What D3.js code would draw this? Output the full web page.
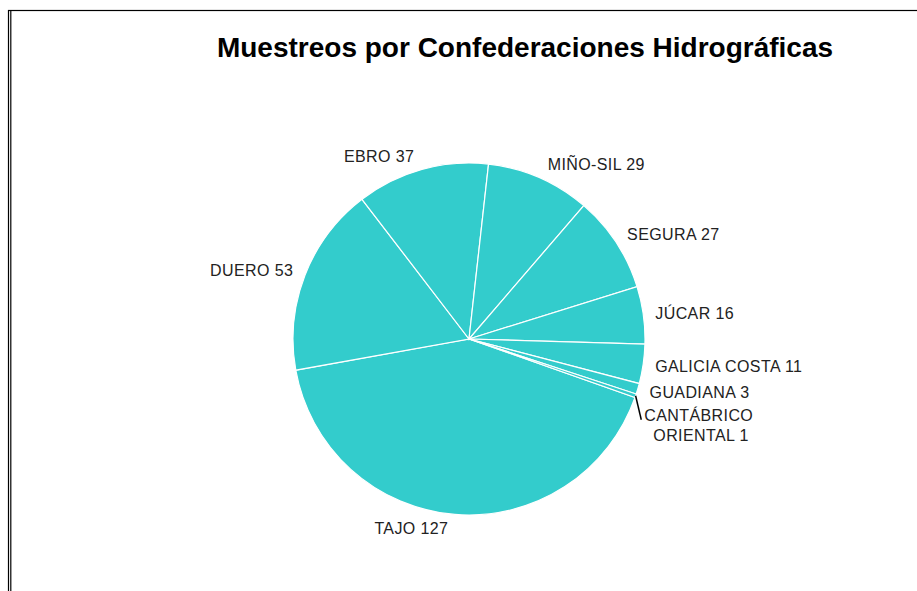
<!DOCTYPE html>
<html>
<head>
<meta charset="utf-8">
<script src="https://cdn.jsdelivr.net/npm/d3@7"></script>
<style>
  body { margin: 0; background: #fff; }
  svg { display: block; font-family: "Liberation Sans", Arial, sans-serif; }
</style>
</head>
<body>
<div id="container"></div>
<script>
// data we work with
let names = ["TAJO", "DUERO", "EBRO", "MIÑO-SIL", "SEGURA", "JÚCAR",
  "GALICIA COSTA", "GUADIANA", "CANTÁBRICO\nORIENTAL"];
let values = [127, 53, 37, 29, 27, 16, 11, 3, 1];
let title = "Muestreos por Confederaciones Hidrográficas";

let data = names.map(function(n, i){
  return { name: n, value: values[i] };
});

let w = 917;
let h = 591;
let cx = 469;
let cy = 339;
let r = 176;
let fs = 16;
let lineH = 20;

let viz = d3.select("#container")
  .append("svg")
    .attr("width", w)
    .attr("height", h)
;

// frame (double line on the left)
viz.append("rect")
  .attr("x", 8.5).attr("y", 10.5)
  .attr("width", 1000).attr("height", 1000)
  .attr("fill", "none").attr("stroke", "#000").attr("stroke-width", 1.2);
viz.append("line")
  .attr("x1", 10.8).attr("x2", 10.8)
  .attr("y1", 10.5).attr("y2", h)
  .attr("stroke", "#000").attr("stroke-width", 1.2);

viz.append("text")
  .attr("x", 525)
  .attr("y", 57)
  .attr("text-anchor", "middle")
  .attr("font-size", 28)
  .attr("font-weight", "bold")
  .attr("fill", "#000")
  .text(title);

let start = 109.4 * Math.PI / 180;
let pie = d3.pie()
  .sort(null)
  .value(function(d){ return d.value; })
  .startAngle(start)
  .endAngle(start + 2 * Math.PI);

let arcs = pie(data);

let arcMaker = d3.arc().innerRadius(0).outerRadius(r);

let g = viz.append("g").attr("transform", "translate(" + cx + "," + cy + ")");

g.selectAll("path")
  .data(arcs)
  .enter()
  .append("path")
    .attr("d", arcMaker)
    .attr("fill", "#33CCCC")
    .attr("stroke", "#fff")
    .attr("stroke-width", 1.2)
;

// label layout: point just outside the arc, then push apart on each side
let labelR = r + 6;
let labels = arcs.map(function(a){
  let mid = (a.startAngle + a.endAngle) / 2;
  let s = Math.sin(mid), c = Math.cos(mid);
  let lines = (a.data.name + " " + a.data.value).split("\n");
  let bh = (lines.length - 1) * lineH + fs;
  let px = labelR * s;
  let py = -labelR * c;
  let center = py - c * bh / 2;
  return { a: a, mid: mid, s: s, lines: lines, bh: bh, px: px, top: center - bh / 2, moved: false };
});

[1, -1].forEach(function(side){
  let group = labels.filter(function(l){ return (l.s >= 0 ? 1 : -1) === side; })
    .sort(function(p, q){ return p.top - q.top; });
  for (let i = 1; i < group.length; i++) {
    let prev = group[i - 1];
    let minTop = prev.top + prev.bh + 7;
    if (group[i].top < minTop) {
      group[i].top = minTop;
      group[i].moved = true;
    }
  }
});

labels.forEach(function(l){
  let side = l.s >= 0 ? 1 : -1;
  let anchor = side > 0 ? "start" : "end";
  let x = l.px + side * 6;
  if (l.moved) {
    let p0 = [r * Math.sin(l.mid), -r * Math.cos(l.mid)];
    g.append("line")
      .attr("x1", p0[0]).attr("y1", p0[1])
      .attr("x2", l.px).attr("y2", l.top + l.bh / 2 - 6)
      .attr("stroke", "#000").attr("stroke-width", 1.5);
    x = l.px + side * 3;
  }
  let t = g.append("text")
    .attr("text-anchor", anchor)
    .attr("font-size", fs)
    .attr("letter-spacing", 0.4)
    .attr("fill", "#222");
  l.lines.forEach(function(line, i){
    t.append("tspan")
      .attr("x", i === 0 ? x : x + 9)
      .attr("y", l.top + fs * 0.85 + i * lineH)
      .text(line);
  });
});
</script>
</body>
</html>
